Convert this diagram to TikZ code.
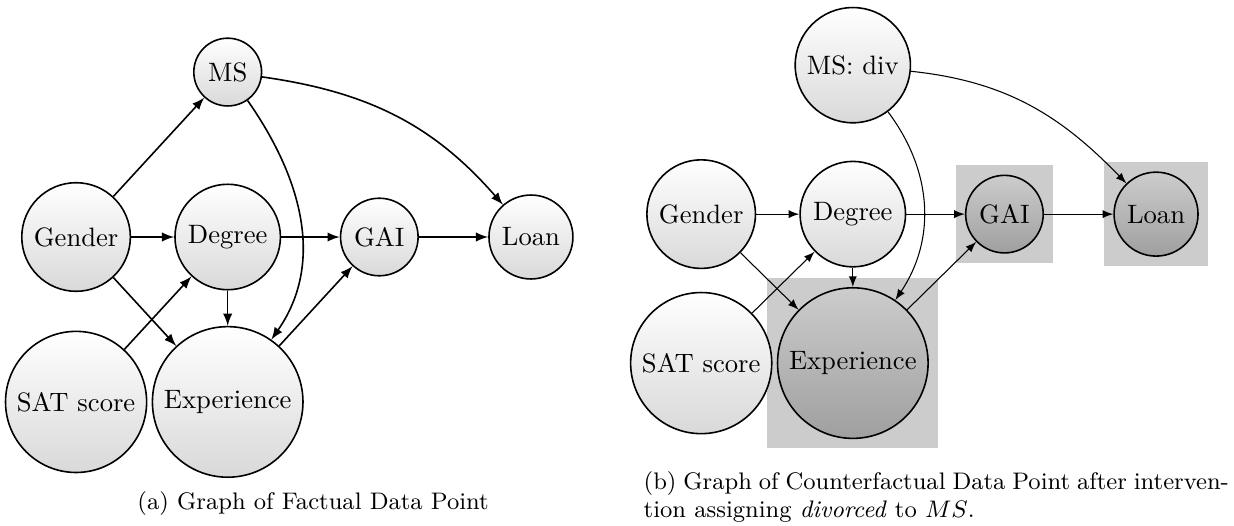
\documentclass[tikz,border=0pt]{standalone}
\usepackage{tikz}
\usetikzlibrary{arrows,fit,backgrounds}

\begin{document}
\begin{tikzpicture}
  [
    ->,
    >=latex,
    auto,node distance=57pt,
    semithick,
    main node/.style={circle, draw, top color=white, bottom color=gray!30},
    cf node/.style={circle, draw, top color=gray!40, bottom color=gray!75},
    cf box/.style={draw=none, fill=gray!40, inner sep=3.5pt},
    caption/.style={font=\fontsize{9}{10.2}\selectfont, inner sep=0pt}
    ]

  \useasboundingbox (-28.6pt,-108.6pt) rectangle (435.3pt,89.1pt);

  % (a) factual data point
  \node[main node] (1) {Gender};
  \node[main node] (2) [right of=1] {Degree};
  \node[main node] (3) [right of=2] {GAI};
  \node[main node] (4) [right of=3] {Loan};
  \node[main node] (5) [above of=2, node distance=62pt] {MS};
  \node[main node] (6) [below of=1, node distance=62pt] {SAT score};
  \node[main node] (7) [below of=2, node distance=62pt] {Experience};

  \draw (1) to (5);
  \draw (1) to (2);
  \draw (1) to (7);
  \draw (6) to (2);
  \draw (2) to (7);
  \draw (2) to (3);
  \draw (7) to (3);
  \draw (3) to (4);
  \draw (5) [out=305, in=55] to (7);
  \draw (5) [out=352, in=131] to (4);

  \node[caption, anchor=base] (capa) at (89.1pt,-102.6pt) {(a) Graph of Factual Data Point};

  % (b) counterfactual data point
  \node[main node] (11) at (235pt,8.6pt) {Gender};
  \node[main node] (12) [right of=11] {Degree};
  \node[cf node] (13) [right of=12] {GAI};
  \node[cf node] (14) [right of=13] {Loan};
  \node[main node] (15) [above of=12, node distance=56pt] {MS: div};
  \node[main node] (16) [below of=11, node distance=56pt] {SAT score};
  \node[cf node] (17) [below of=12, node distance=56pt] {Experience};

  \begin{pgfonlayer}{background}
    \node[cf box, fit=(13)] (b13) {};
    \node[cf box, fit=(14)] (b14) {};
    \node[cf box, fit=(17)] (b17) {};
  \end{pgfonlayer}

  \draw (11) to (12);
  \draw (11) to (17);
  \draw (16) to (12);
  \draw (12) to (17);
  \draw (12) to (13);
  \draw (17) to (13);
  \draw (13) to (14);
  \draw (15) [out=307, in=56] to (17);
  \draw (15) [out=354, in=134] to (14);

  \node[caption, anchor=base west, text width=220pt, align=justify] (capb) at (213.2pt,-95.1pt)
    {(b) Graph of Counterfactual Data Point after interven-\linebreak tion assigning \emph{divorced} to $MS$.};
\end{tikzpicture}
\end{document}
